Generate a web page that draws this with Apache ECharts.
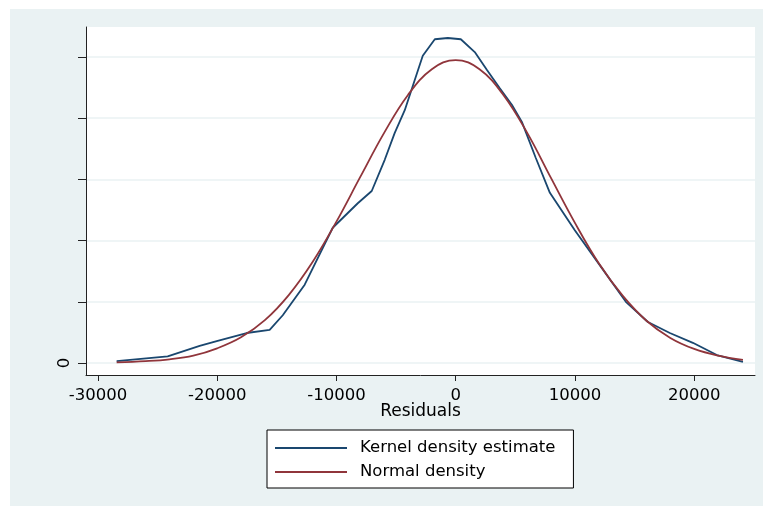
<!DOCTYPE html>
<html lang="en">
<head>
	<meta charset="UTF-8">
	<title>Residuals density</title>
	<script src="https://cdn.jsdelivr.net/npm/echarts@6/dist/echarts.min.js" type="text/javascript"></script>
	<style>
		html,body{margin:0;padding:0;background:#fff;}
		#main{width:763px;height:506px;}
	</style>
</head>
<body>
<div id="main"></div>
</body>
<script>
	// kernel density estimate (x = residual, y = density in 1e-5)
	var kernelX = [-28430,-24150,-21470,-19960,-17530,-15600,-14500,-12660,-10310,-8210,-7040,-5950,-5110,-4270,-2760,-1750,-660,430,1600,2610,3700,4710,5550,6720,7900,9990,12260,14270,16120,17960,19890,21900,24090];
	var kernelY = [0.03,0.11,0.28,0.36,0.49,0.54,0.78,1.28,2.21,2.61,2.81,3.32,3.76,4.13,5.02,5.29,5.31,5.29,5.08,4.79,4.49,4.22,3.94,3.35,2.78,2.17,1.55,1.00,0.67,0.49,0.33,0.13,0.02];
	// normal density
	var normalX = [-28430,-26000,-24000,-22000,-20000,-18000,-16000,-14000,-12000,-10000,-8000,-6000,-4000,-2000,0,2000,4000,6000,8000,10000,12000,14000,16000,18000,20000,22000,24090];
	var normalY = [0.01,0.03,0.06,0.12,0.24,0.42,0.70,1.11,1.65,2.31,3.04,3.76,4.38,4.80,4.95,4.80,4.38,3.76,3.02,2.29,1.63,1.10,0.69,0.41,0.23,0.12,0.05];
	// axis ticks
	var xTicks = [-30000,-20000,-10000,0,10000,20000];
	var yTicks = [0,1,2,3,4,5];
	var yLabels = [0];
	var legendNames = ['Kernel density estimate','Normal density'];

	function pairs(xs,ys){
		var out=[];
		for(var i=0;i<xs.length;i++){
			out.push([xs[i],ys[i]]);
		}
		return out;
	}

	var font = 'DejaVu Sans';
	var myChart = echarts.init(document.getElementById('main'));
	var option = {
		backgroundColor:'#fff',
		animation:false,
		graphic:[{
			type:'rect',
			left:10,top:9,z:-10,
			shape:{width:753,height:497},
			style:{fill:'#eaf2f3'}
		}],
		grid:{
			left:86,top:27,right:8,bottom:131,
			show:true,backgroundColor:'#fff',borderWidth:0
		},
		legend:{
			data:legendNames,
			orient:'vertical',
			left:267,top:430,
			backgroundColor:'#fff',
			borderColor:'#000',borderWidth:1,
			padding:[8,18,6,8],
			icon:'rect',
			itemWidth:72,itemHeight:2,itemGap:4,
			textStyle:{fontFamily:font,fontSize:16.5,color:'#000',lineHeight:20,padding:[0,0,0,8]}
		},
		xAxis:{
			type:'value',
			min:-31000,max:25100,
			name:'Residuals',
			nameLocation:'middle',
			nameGap:28,
			nameMoveOverlap:false,
			nameTextStyle:{fontFamily:font,fontSize:17,color:'#000'},
			axisLine:{onZero:false,lineStyle:{color:'#222',width:1}},
			axisTick:{customValues:xTicks,length:6,lineStyle:{color:'#222'}},
			axisLabel:{customValues:xTicks,fontFamily:font,fontSize:16.5,color:'#000',margin:12,
				formatter:function(v){return String(v);}},
			splitLine:{show:false}
		},
		yAxis:{
			type:'value',
			min:-0.196,max:5.49,
			axisLine:{show:true,onZero:false,lineStyle:{color:'#222',width:1}},
			axisTick:{show:true,customValues:yTicks,length:8,lineStyle:{color:'#222'}},
			axisLabel:{customValues:yLabels,rotate:90,fontFamily:font,fontSize:16.5,color:'#000',margin:13},
			splitLine:{show:true,lineStyle:{color:'#eaf2f3',width:1.5}}
		},
		series:[
			{
				name:legendNames[0],
				type:'line',
				data:pairs(kernelX,kernelY),
				showSymbol:false,symbol:'none',
				color:'#1a476f',
				lineStyle:{color:'#1a476f',width:1.8},
				z:3
			},
			{
				name:legendNames[1],
				type:'line',
				data:pairs(normalX,normalY),
				showSymbol:false,symbol:'none',
				smooth:0.4,
				color:'#90353b',
				lineStyle:{color:'#90353b',width:1.8},
				z:4
			}
		]
	};
	myChart.setOption(option);
</script>
</html>
